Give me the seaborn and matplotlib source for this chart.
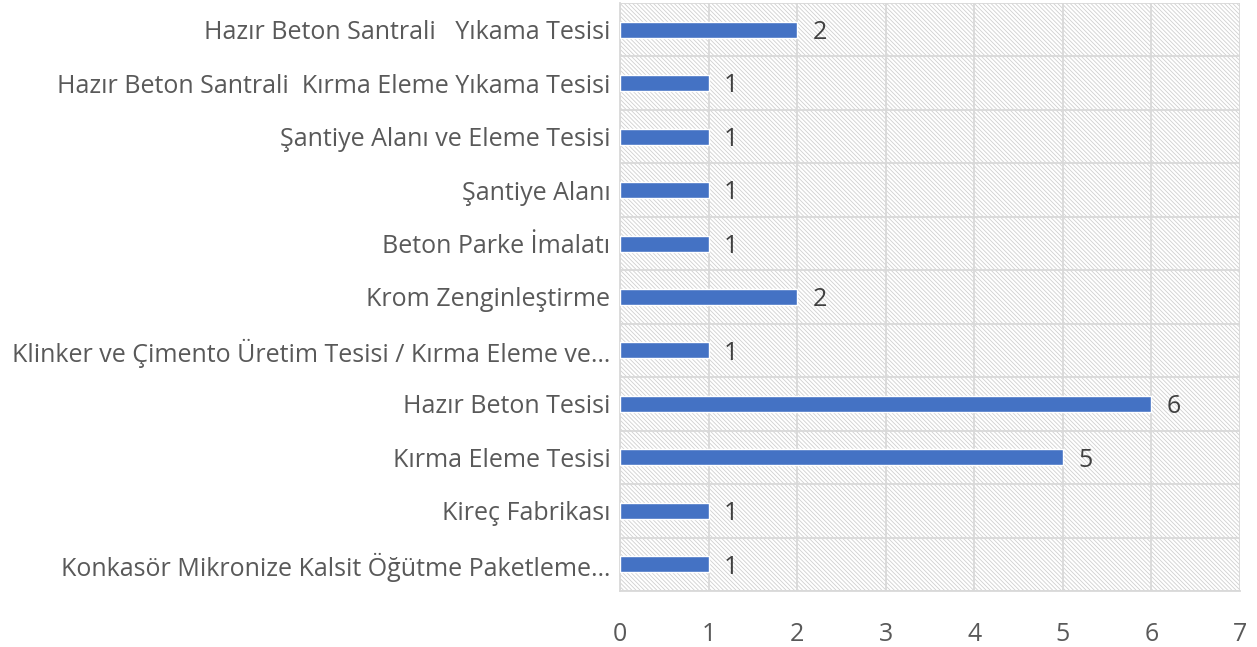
import matplotlib
matplotlib.use("Agg")
import matplotlib.pyplot as plt
import seaborn as sns
import pandas as pd
import numpy as np

categories = [
    "Hazır Beton Santrali   Yıkama Tesisi",
    "Hazır Beton Santrali  Kırma Eleme Yıkama Tesisi",
    "Şantiye Alanı ve Eleme Tesisi",
    "Şantiye Alanı",
    "Beton Parke İmalatı",
    "Krom Zenginleştirme",
    "Klinker ve Çimento Üretim Tesisi / Kırma Eleme ve…",
    "Hazır Beton Tesisi",
    "Kırma Eleme Tesisi",
    "Kireç Fabrikası",
    "Konkasör Mikronize Kalsit Öğütme Paketleme…",
]
values = [2, 1, 1, 1, 1, 2, 1, 6, 5, 1, 1]
x_ticks = [0, 1, 2, 3, 4, 5, 6, 7]

df = pd.DataFrame({"cat": categories, "val": values})

sns.set_theme(style="white")
plt.rcParams["font.family"] = ["Open Sans", "DejaVu Sans"]
plt.rcParams["hatch.linewidth"] = 0.6
plt.rcParams["hatch.color"] = "#d0d0d0"

W, H = 1257, 647
fig = plt.figure(figsize=(W / 100, H / 100), dpi=100)
ax = fig.add_axes([620 / W, 1 - 591 / H, 620 / W, 588 / H])

# hatched background
ax.patch.set_facecolor("white")
ax.patch.set_hatch("\\" * 8)
ax.patch.set_edgecolor("#d0d0d0")
ax.patch.set_linewidth(0)

sns.barplot(data=df, x="val", y="cat", orient="h", color="#4472C4",
            saturation=1, width=0.3, ax=ax, zorder=3)

n = len(categories)
ax.set_xlim(0, 7)
ax.set_ylim(n - 0.5, -0.5)
ax.set_xticks(x_ticks)
ax.set_xticklabels([str(t) for t in x_ticks])
ax.set_xlabel("")
ax.set_ylabel("")

grid_c = "#d9d9d9"
ax.set_yticks(np.arange(-0.5, n, 1), minor=True)
ax.grid(which="minor", axis="y", color=grid_c, linewidth=1.3, zorder=1)
ax.grid(which="major", axis="x", color=grid_c, linewidth=1.3, zorder=1)
ax.set_axisbelow(True)

for s in ["top", "right"]:
    ax.spines[s].set_visible(False)
for s in ["left", "bottom"]:
    ax.spines[s].set_color(grid_c)
    ax.spines[s].set_linewidth(1.3)

fs = 18
ax.tick_params(axis="y", which="major", length=0, pad=7, labelsize=fs,
               labelcolor="#595959")
ax.tick_params(axis="y", which="minor", length=7, width=1.3, color=grid_c,
               direction="out")
ax.tick_params(axis="x", which="major", length=0, pad=22, labelsize=fs,
               labelcolor="#595959")

for i, v in enumerate(values):
    ax.annotate(str(v), xy=(v, i), xytext=(11, -2), textcoords="offset points",
                ha="left", va="center", fontsize=fs, color="#404040")

fig.savefig("out.png", dpi=100)
